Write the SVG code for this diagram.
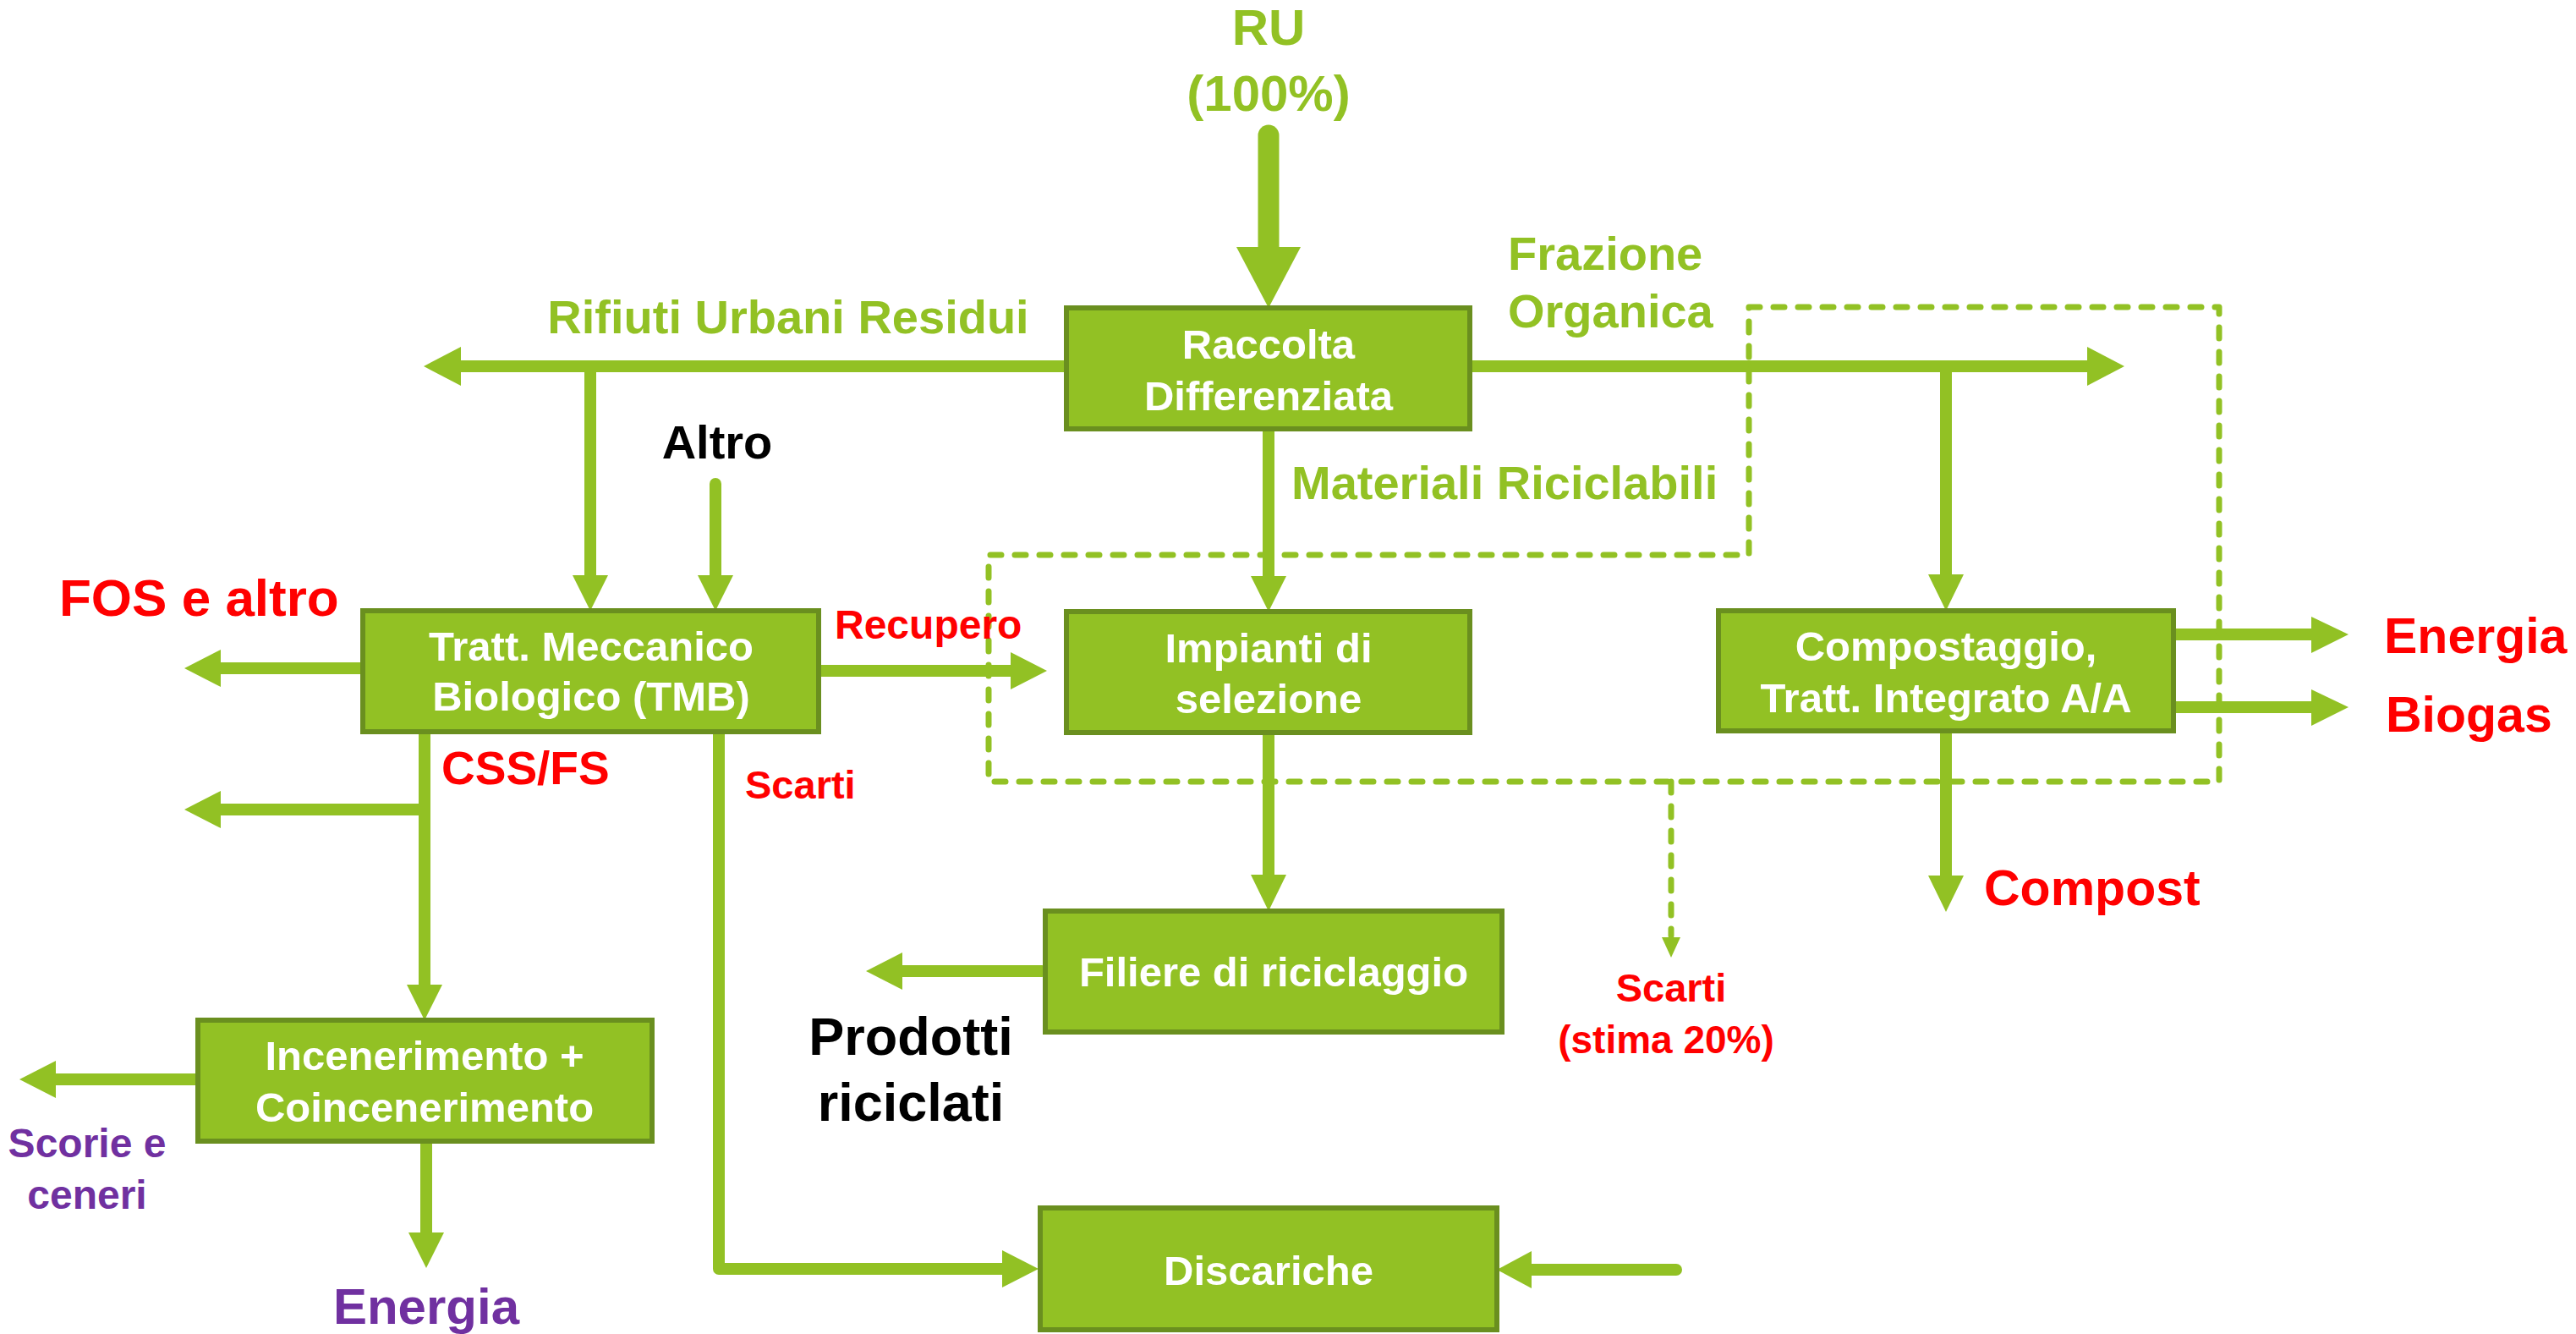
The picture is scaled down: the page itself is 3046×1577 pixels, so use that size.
<svg xmlns="http://www.w3.org/2000/svg" width="3046" height="1577" viewBox="0 0 3046 1577">
<style>
  .box { fill: #92C124; stroke: #6A8F1F; stroke-width: 6; }
  .bt { font-family: "Liberation Sans", Arial, sans-serif; font-weight: bold; font-size: 49px; fill: #FFFFFF; text-anchor: middle; }
  .lbl { font-family: "Liberation Sans", Arial, sans-serif; font-weight: bold; }
  .g { fill: #92C124; }
  .r { fill: #FF0000; }
  .p { fill: #7030A0; }
  .k { fill: #000000; }
  .ln { stroke: #92C124; stroke-width: 14; fill: none; stroke-linecap: butt; stroke-linejoin: round; }
  .rc { stroke-linecap: round; }
  .dash { stroke: #92C124; stroke-width: 7; fill: none; stroke-dasharray: 13 16; stroke-linecap: round; stroke-linejoin: round; }
  .ah { fill: #92C124; }
</style>
<rect width="3046" height="1577" fill="#FFFFFF"/>

<g id="connectors">
  <!-- RU -> Raccolta -->
  <line class="ln rc" x1="1500" y1="160" x2="1500" y2="295" style="stroke-width:25"/>
  <polygon class="ah" points="1462,292 1538,292 1500,364"/>
  <!-- Rifiuti Urbani Residui -->
  <line class="ln" x1="1262" y1="433" x2="543" y2="433"/>
  <polygon class="ah" points="545,410 545,456 501,433"/>
  <line class="ln" x1="698" y1="433" x2="698" y2="682"/>
  <polygon class="ah" points="677,680 719,680 698,722"/>
  <!-- Altro -->
  <line class="ln rc" x1="846" y1="572" x2="846" y2="682"/>
  <polygon class="ah" points="825,680 867,680 846,722"/>
  <!-- Frazione Organica -->
  <line class="ln" x1="1738" y1="433" x2="2470" y2="433"/>
  <polygon class="ah" points="2468,410 2468,456 2512,433"/>
  <line class="ln" x1="2301" y1="433" x2="2301" y2="681"/>
  <polygon class="ah" points="2280,679 2322,679 2301,722"/>
  <!-- Materiali Riciclabili -->
  <line class="ln" x1="1500" y1="507" x2="1500" y2="683"/>
  <polygon class="ah" points="1479,681 1521,681 1500,723"/>
  <!-- FOS e altro -->
  <line class="ln" x1="429" y1="790" x2="259" y2="790"/>
  <polygon class="ah" points="261,768 261,812 218,790"/>
  <!-- Recupero -->
  <line class="ln" x1="968" y1="793" x2="1197" y2="793"/>
  <polygon class="ah" points="1195,771 1195,815 1238,793"/>
  <!-- Energia / Biogas -->
  <line class="ln" x1="2570" y1="750" x2="2735" y2="750"/>
  <polygon class="ah" points="2733,729 2733,772 2777,750"/>
  <line class="ln" x1="2570" y1="836" x2="2735" y2="836"/>
  <polygon class="ah" points="2733,815 2733,858 2777,836"/>
  <!-- Compost -->
  <line class="ln" x1="2301" y1="864" x2="2301" y2="1037"/>
  <polygon class="ah" points="2280,1035 2322,1035 2301,1078"/>
  <!-- Impianti -> Filiere -->
  <line class="ln" x1="1500" y1="866" x2="1500" y2="1036"/>
  <polygon class="ah" points="1479,1034 1521,1034 1500,1077"/>
  <!-- Filiere -> Prodotti riciclati -->
  <line class="ln rc" x1="1232" y1="1148" x2="1065" y2="1148"/>
  <polygon class="ah" points="1067,1126 1067,1170 1024,1148"/>
  <!-- CSS/FS -->
  <line class="ln" x1="502" y1="865" x2="502" y2="1166"/>
  <polygon class="ah" points="481,1164 523,1164 502,1206"/>
  <line class="ln" x1="502" y1="957" x2="259" y2="957"/>
  <polygon class="ah" points="261,935 261,979 218,957"/>
  <!-- Scarti TMB -> Discariche -->
  <polyline class="ln" points="850,865 850,1500 1187,1500"/>
  <polygon class="ah" points="1185,1478 1185,1522 1228,1500"/>
  <!-- Incenerimento outputs -->
  <line class="ln" x1="234" y1="1276" x2="64" y2="1276"/>
  <polygon class="ah" points="66,1254 66,1298 23,1276"/>
  <line class="ln" x1="504" y1="1349" x2="504" y2="1459"/>
  <polygon class="ah" points="483,1457 525,1457 504,1499"/>
  <!-- into Discariche from right -->
  <line class="ln rc" x1="1982" y1="1501" x2="1809" y2="1501"/>
  <polygon class="ah" points="1811,1479 1811,1523 1770,1501"/>
  <!-- dashed boundary and Scarti (stima 20%) -->
  <polygon class="dash" points="2068,363 2624,363 2624,924 1169,924 1169,656 2068,656"/>
  <line class="dash" x1="1976" y1="924" x2="1976" y2="1106"/>
  <polygon class="ah" points="1965,1108 1987,1108 1976,1132"/>
</g>

<g id="node-raccolta">
  <rect class="box" x="1261" y="364" width="477" height="143"/>
  <text class="bt" x="1500" y="424">Raccolta</text>
  <text class="bt" x="1500" y="485">Differenziata</text>
</g>
<g id="node-tmb">
  <rect class="box" x="429" y="722" width="539" height="143"/>
  <text class="bt" x="699" y="781">Tratt. Meccanico</text>
  <text class="bt" x="699" y="840">Biologico (TMB)</text>
</g>
<g id="node-impianti">
  <rect class="box" x="1261" y="723" width="477" height="143"/>
  <text class="bt" x="1500" y="783">Impianti di</text>
  <text class="bt" x="1500" y="843">selezione</text>
</g>
<g id="node-compostaggio">
  <rect class="box" x="2032" y="722" width="538" height="142"/>
  <text class="bt" x="2301" y="781">Compostaggio,</text>
  <text class="bt" x="2301" y="842">Tratt. Integrato A/A</text>
</g>
<g id="node-incenerimento">
  <rect class="box" x="234" y="1206" width="537" height="143"/>
  <text class="bt" x="502" y="1265">Incenerimento +</text>
  <text class="bt" x="502" y="1326">Coincenerimento</text>
</g>
<g id="node-filiere">
  <rect class="box" x="1236" y="1077" width="540" height="143"/>
  <text class="bt" x="1506" y="1166">Filiere di riciclaggio</text>
</g>
<g id="node-discariche">
  <rect class="box" x="1230" y="1428" width="540" height="144"/>
  <text class="bt" x="1500" y="1519">Discariche</text>
</g>

<g id="labels">
  <text class="lbl g" x="1500" y="53" font-size="60" text-anchor="middle">RU</text>
  <text class="lbl g" x="1500" y="131" font-size="60" text-anchor="middle">(100%)</text>
  <text class="lbl g" x="932" y="394" font-size="56" text-anchor="middle">Rifiuti Urbani Residui</text>
  <text class="lbl g" x="1783" y="319" font-size="56">Frazione</text>
  <text class="lbl g" x="1783" y="387" font-size="56">Organica</text>
  <text class="lbl g" x="1527" y="590" font-size="56">Materiali Riciclabili</text>
  <text class="lbl k" x="848" y="542" font-size="56" text-anchor="middle">Altro</text>
  <text class="lbl r" x="70" y="728" font-size="62">FOS e altro</text>
  <text class="lbl r" x="987" y="755" font-size="48">Recupero</text>
  <text class="lbl r" x="522" y="927" font-size="55">CSS/FS</text>
  <text class="lbl r" x="881" y="944" font-size="47">Scarti</text>
  <text class="lbl r" x="2819" y="772" font-size="59">Energia</text>
  <text class="lbl r" x="2821" y="865" font-size="59">Biogas</text>
  <text class="lbl r" x="2346" y="1070" font-size="59">Compost</text>
  <text class="lbl r" x="1976" y="1184" font-size="47" text-anchor="middle">Scarti</text>
  <text class="lbl r" x="1970" y="1245" font-size="46" text-anchor="middle">(stima 20%)</text>
  <text class="lbl k" x="1077" y="1247" font-size="63" text-anchor="middle">Prodotti</text>
  <text class="lbl k" x="1077" y="1325" font-size="63" text-anchor="middle">riciclati</text>
  <text class="lbl p" x="103" y="1368" font-size="48" text-anchor="middle">Scorie e</text>
  <text class="lbl p" x="103" y="1429" font-size="48" text-anchor="middle">ceneri</text>
  <text class="lbl p" x="504" y="1565" font-size="60" text-anchor="middle">Energia</text>
</g>
</svg>
